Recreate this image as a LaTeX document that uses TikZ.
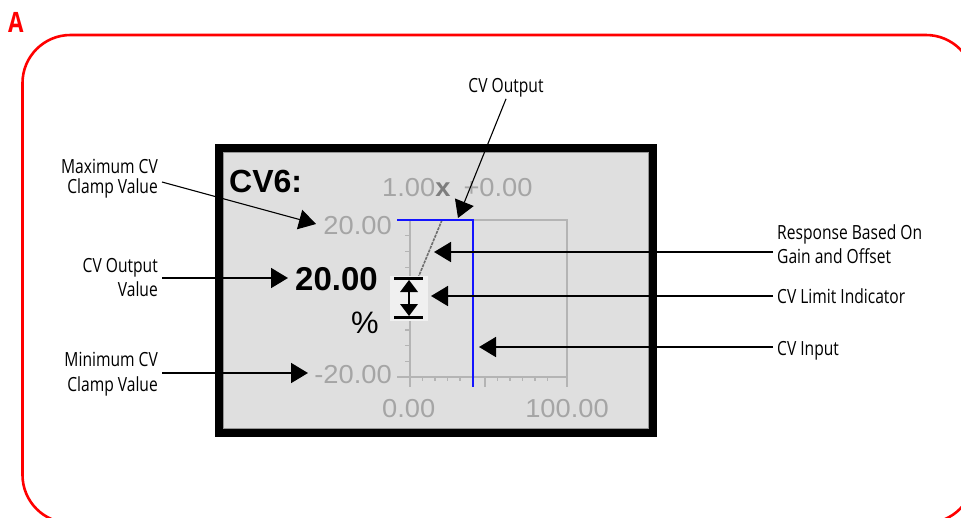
\documentclass[tikz,border=0pt]{standalone}
\usepackage{fontspec}
\setmainfont{Liberation Sans}
\newfontfamily\labfont[FakeStretch=0.8]{Open Sans}
\newfontfamily\scrfont[FakeStretch=1.05]{Liberation Sans}
\usetikzlibrary{arrows.meta}
\definecolor{scrbg}{RGB}{223,223,223}
\definecolor{scredge}{RGB}{150,150,150}
\definecolor{scrgray}{RGB}{165,165,165}
\definecolor{axisgray}{RGB}{180,180,180}
\definecolor{xgray}{RGB}{125,125,125}
\definecolor{diaggray}{RGB}{110,110,110}
\definecolor{limbg}{RGB}{240,240,240}
\definecolor{cvblue}{RGB}{20,20,255}
\definecolor{framered}{RGB}{255,0,0}
\tikzset{
  lbl/.style={inner ysep=0pt, inner xsep=4pt, font=\labfont\fontsize{19.5}{24}\selectfont},
  scrtxt/.style={inner sep=0pt, text=scrgray, font=\scrfont\fontsize{26}{30}\selectfont},
  arr/.style={line width=1.7pt, -{Triangle[length=17pt,width=20pt]}},
  arrthin/.style={line width=1.1pt, -{Triangle[length=17pt,width=20pt]}},
  axisline/.style={draw=axisgray, line width=1.2pt},
}
\begin{document}
\begin{tikzpicture}[x=1pt,y=-1pt]
\useasboundingbox (0,0) rectangle (961,517);
\clip (0,0) rectangle (961,517);
% red frame
\draw[framered, line width=2.6pt, rounded corners=48pt] (22.5,35) rectangle (974,523);
\node[inner sep=0pt, anchor=base west, text=framered, font=\labfont\bfseries\fontsize{28}{30}\selectfont] (lblA) at (8,32) {A};
% screen
\draw[line width=8pt, fill=scrbg] (219,148) rectangle (653,433);
\draw[line width=1pt, scredge] (223.5,152.5) rectangle (648.5,428.5);
% plot axes
\draw[axisline] (397,220) -- (567,220) -- (567,377) -- (397,377);
\draw[axisline] (410,220) -- (410,387);
\foreach \k in {1,...,9} \draw[axisline] (405,{220+15.7*\k}) -- (410,{220+15.7*\k});
\foreach \k in {1,...,11} \draw[axisline] ({410+12.5*\k},377) -- ({410+12.5*\k},381);
\draw[axisline] (485,377) -- (485,387);
\draw[axisline] (567,377) -- (567,387);
% response line
\draw[diaggray, line width=1.6pt, dash pattern=on 3pt off 1pt] (442,220) -- (418,278);
% limit indicator
\fill[limbg] (390,276) rectangle (428,321);
\draw[line width=2.5pt] (394,278.5) -- (423,278.5);
\draw[line width=2.5pt] (394,317.5) -- (423,317.5);
\draw[line width=2pt] (409,285) -- (409,311);
\fill (409,280) -- (400,292) -- (418,292) -- cycle;
\fill (409,316) -- (400,304) -- (418,304) -- cycle;
% CV blue
\draw[cvblue, line width=2.8pt] (397,220) -- (473,220) -- (473,387);
% screen texts
\node[inner sep=0pt, anchor=base west, font=\bfseries\fontsize{32}{36}\selectfont] (cv6) at (229,192) {CV6:};
\node[scrtxt, anchor=base west] (gain) at (382,196) {1.00{\bfseries\color{xgray}x}\hspace{13pt}+0.00};
\node[scrtxt, anchor=base east] (maxval) at (392,234) {20.00};
\node[inner sep=0pt, anchor=base east, font=\bfseries\fontsize{33}{36}\selectfont] (outval) at (378,290) {20.00};
\node[inner sep=0pt, anchor=base east, font=\fontsize{31}{34}\selectfont] (pct) at (379,333) {\%};
\node[scrtxt, anchor=base east] (minval) at (392,383) {-20.00};
\node[scrtxt, anchor=base west] (xzero) at (382,417) {0.00};
\node[scrtxt, anchor=base east] (xhund) at (609,417) {100.00};
% labels
\node[lbl, inner ysep=2pt, anchor=base] (lcvo) at (506,92) {CV Output};
\node[lbl, anchor=base east, font=\labfont\fontsize{19.5}{20}\selectfont] (lmax) at (162,173) {\begin{tabular}[t]{@{}r@{}}Maximum CV\\Clamp Value\end{tabular}};
\node[lbl, anchor=base east] (lval) at (162,272) {\begin{tabular}[t]{@{}r@{}}CV Output\\Value\end{tabular}};
\node[lbl, anchor=base east, font=\labfont\fontsize{19.5}{25}\selectfont] (lmin) at (162,366) {\begin{tabular}[t]{@{}r@{}}Minimum CV\\Clamp Value\end{tabular}};
\node[lbl, anchor=base west] (lresp) at (773,239) {\begin{tabular}[t]{@{}l@{}}Response Based On\\Gain and Offset\end{tabular}};
\node[lbl, anchor=base west] (llim) at (773,303) {CV Limit Indicator};
\node[lbl, anchor=base west] (lin) at (773,355) {CV Input};
% arrow targets
\coordinate (tcvo) at (458,218);
\coordinate (smax) at (160,182);
\coordinate (tmax) at (316,224);
\coordinate (tval) at (288,278);
\coordinate (tmin) at (308,373);
\coordinate (tresp) at (434,252);
\coordinate (tlim) at (431,296);
\coordinate (tin) at (479,347);
% connectors
\draw[arrthin] (lcvo.south) -- (tcvo);
\draw[arrthin] (lmax.east |- smax) -- (tmax);
\draw[arr] (lval.east |- tval) -- (tval);
\draw[arr] (lmin.east |- tmin) -- (tmin);
\draw[arr] (lresp.west |- tresp) -- (tresp);
\draw[arr] (llim.west |- tlim) -- (tlim);
\draw[arr] (lin.west |- tin) -- (tin);
\end{tikzpicture}
\end{document}
